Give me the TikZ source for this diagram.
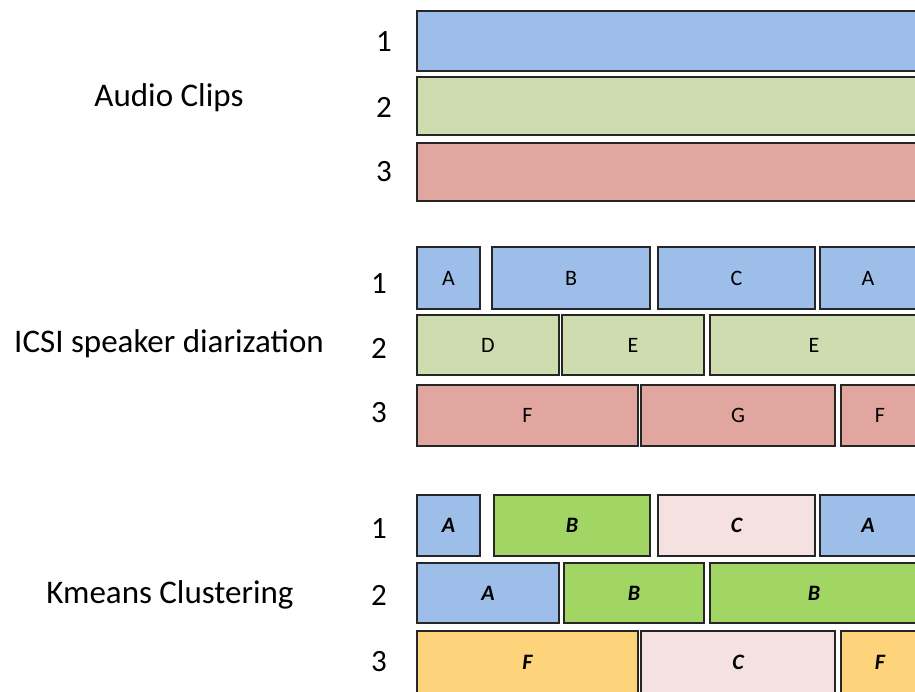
\documentclass[tikz,border=0pt]{standalone}
\usepackage{fontspec}
\setmainfont{Carlito}
\definecolor{segblue}{HTML}{9DBEE8}
\definecolor{seggreen}{HTML}{CFDCB0}
\definecolor{segred}{HTML}{E2A6A1}
\definecolor{kgreen}{HTML}{A1D564}
\definecolor{kpink}{HTML}{F4E1E0}
\definecolor{korange}{HTML}{FDD47B}
\tikzset{
  seg/.style={draw=black!85, line width=1.9pt, inner sep=0pt, outer sep=0pt,
    anchor=north west, font=\fontsize{22}{24}\selectfont},
  kseg/.style={seg, font=\fontsize{22}{24}\selectfont\bfseries\itshape},
  rownum/.style={font=\fontsize{31}{34}\selectfont},
  section/.style={font=\fontsize{33}{38}\selectfont}
}
% place a segment: name, left, top, right, bottom, style, text
\newcommand{\segbox}[7]{%
  \pgfmathsetmacro{\segw}{#4-#2}\pgfmathsetmacro{\segh}{#5-#3}%
  \node[#6, minimum width=\segw pt, minimum height=\segh pt] (#1) at (#2,#3) {#7};}
\begin{document}
\begin{tikzpicture}[x=1pt,y=-1pt]
\useasboundingbox (0,0) rectangle (915,691);
\clip (0,0) rectangle (915,691);

% section titles
\node[section] (tAudio) at (169,98) {Audio Clips};
\node[section] (tICSI) at (169,344) {ICSI speaker diarization};
\node[section] (tKm) at (170,595) {Kmeans Clustering};

% row numbers
\node[rownum] (n11) at (384,42) {1};
\node[rownum] (n12) at (384,107) {2};
\node[rownum] (n13) at (384,172) {3};
\node[rownum] (n21) at (379,284) {1};
\node[rownum] (n22) at (379,348) {2};
\node[rownum] (n23) at (379,413) {3};
\node[rownum] (n31) at (379,529) {1};
\node[rownum] (n32) at (379,595) {2};
\node[rownum] (n33) at (379,662) {3};

% audio clips
\segbox{a1}{417}{11}{920}{71}{seg, fill=segblue}{}
\segbox{a2}{417}{77}{920}{135}{seg, fill=seggreen}{}
\segbox{a3}{417}{143}{920}{201}{seg, fill=segred}{}

% ICSI speaker diarization
\segbox{i11}{417}{247}{480}{309}{seg, fill=segblue}{A}
\segbox{i12}{492}{247}{650}{309}{seg, fill=segblue}{B}
\segbox{i13}{658}{247}{815}{309}{seg, fill=segblue}{C}
\segbox{i14}{820}{247}{916}{309}{seg, fill=segblue}{A}
\segbox{i21}{417}{315}{559}{375}{seg, fill=seggreen}{D}
\segbox{i22}{562}{315}{704}{375}{seg, fill=seggreen}{E}
\segbox{i23}{710}{315}{918}{375}{seg, fill=seggreen}{E}
\segbox{i31}{417}{385}{638}{446}{seg, fill=segred}{F}
\segbox{i32}{641}{385}{835}{446}{seg, fill=segred}{G}
\segbox{i33}{841}{385}{919}{446}{seg, fill=segred}{F}

% Kmeans clustering
\segbox{k11}{417}{495}{480}{556}{kseg, fill=segblue}{A}
\segbox{k12}{494}{495}{650}{556}{kseg, fill=kgreen}{B}
\segbox{k13}{658}{495}{815}{556}{kseg, fill=kpink}{C}
\segbox{k14}{820}{495}{916}{556}{kseg, fill=segblue}{A}
\segbox{k21}{417}{563}{559}{623}{kseg, fill=segblue}{A}
\segbox{k22}{564}{563}{704}{623}{kseg, fill=kgreen}{B}
\segbox{k23}{710}{563}{918}{623}{kseg, fill=kgreen}{B}
\segbox{k31}{417}{631}{638}{693}{kseg, fill=korange}{F}
\segbox{k32}{641}{631}{835}{693}{kseg, fill=kpink}{C}
\segbox{k33}{841}{631}{919}{693}{kseg, fill=korange}{F}
\end{tikzpicture}
\end{document}
